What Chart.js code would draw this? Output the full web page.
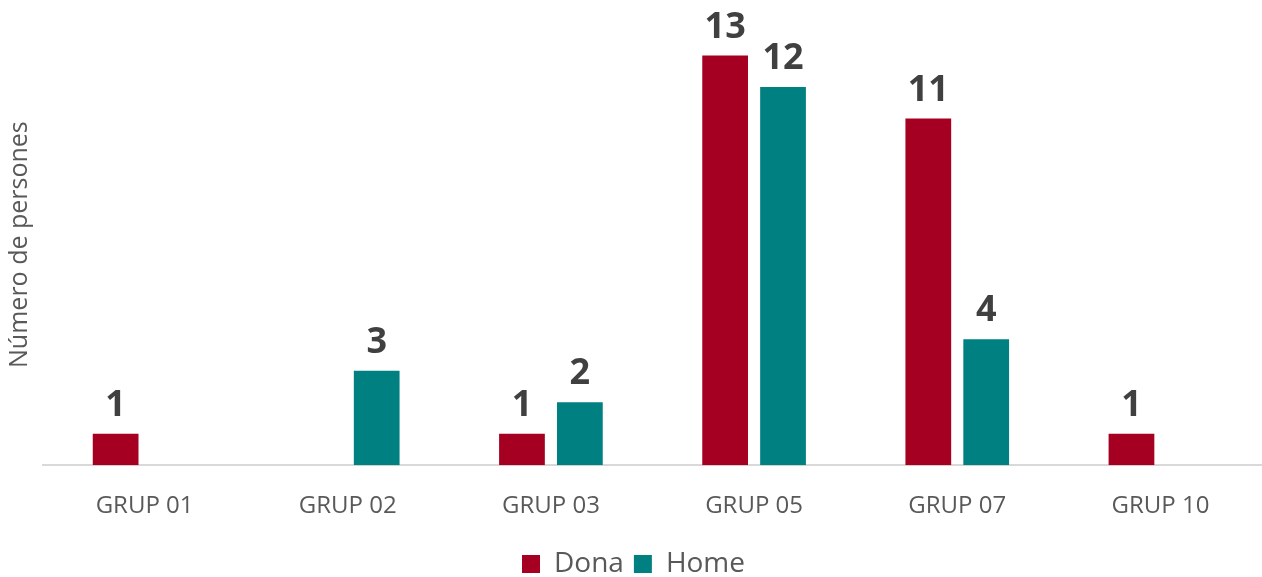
<!DOCTYPE html>
<html>
<head>
<meta charset="utf-8">
<script src="https://cdn.jsdelivr.net/npm/chart.js@4"></script>
<style>
  html, body { margin: 0; padding: 0; background: #fff; }
  #wrap { width: 1262px; height: 577px; position: relative; }
</style>
</head>
<body>
<div id="wrap"><canvas id="grupChart"></canvas></div>
<script>
// data
const groups = ['GRUP 01', 'GRUP 02', 'GRUP 03', 'GRUP 05', 'GRUP 07', 'GRUP 10'];
const dona = [1, null, 1, 13, 11, 1];
const home = [null, 3, 2, 12, 4, null];

const FONT = "'Open Sans', 'Noto Sans', sans-serif";

// draws the value on top of every bar
const valueLabels = {
    id: 'valueLabels',
    afterDatasetsDraw(chart) {
        const ctx = chart.ctx;
        ctx.save();
        ctx.font = `bold 36px ${FONT}`;
        ctx.fillStyle = '#404040';
        ctx.textAlign = 'center';
        ctx.textBaseline = 'bottom';
        chart.data.datasets.forEach((ds, i) => {
            chart.getDatasetMeta(i).data.forEach((bar, j) => {
                const v = ds.data[j];
                if (v == null) return;
                ctx.fillText(v, bar.x, bar.y - 10);
            });
        });
        ctx.restore();
    }
};

const ctx = document.getElementById('grupChart').getContext('2d');
new Chart(ctx, {
    type: 'bar',
    data: {
        labels: groups,
        datasets: [
            { label: 'Dona', data: dona, backgroundColor: '#A50021' },
            { label: 'Home', data: home, backgroundColor: '#008080' }
        ]
    },
    options: {
        responsive: true,
        maintainAspectRatio: false,
        animation: false,
        categoryPercentage: 0.57,
        barPercentage: 0.79,
        layout: { padding: { top: 24, left: 5, right: 0, bottom: -11 } },
        scales: {
            y: {
                min: 0, max: 14,
                grid: { display: false },
                border: { display: false },
                ticks: { display: false },
                title: {
                    display: true,
                    text: 'Número de persones',
                    color: '#595959',
                    font: { family: FONT, size: 25 },
                    padding: { top: 0, bottom: 0 }
                }
            },
            x: {
                grid: { display: false },
                border: { display: true, color: '#d9d9d9', width: 2 },
                ticks: { color: '#595959', font: { family: FONT, size: 24 }, padding: 19 }
            }
        },
        plugins: {
            legend: {
                position: 'bottom',
                labels: {
                    color: '#595959',
                    font: { family: FONT, size: 28 },
                    boxWidth: 18, boxHeight: 18, padding: 10
                }
            },
            tooltip: { enabled: false }
        }
    },
    plugins: [valueLabels]
});
</script>
</body>
</html>
